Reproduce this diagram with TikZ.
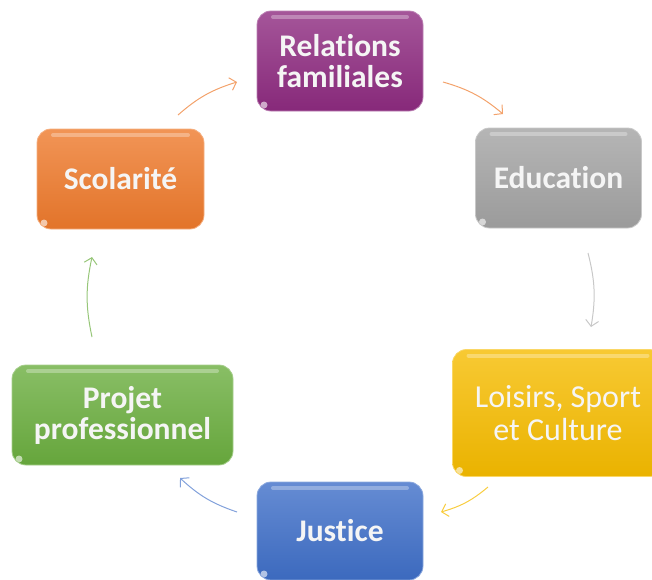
\documentclass[tikz,border=0pt]{standalone}
\usepackage{fontspec}
\setmainfont{Carlito}[Ligatures={NoCommon}]
\usetikzlibrary{arrows.meta}

\definecolor{violet}{HTML}{8E2B80}
\definecolor{gris}{HTML}{A3A3A3}
\definecolor{jaune}{HTML}{F6BC00}
\definecolor{bleu}{HTML}{3F6FC8}
\definecolor{vert}{HTML}{6BAE3F}
\definecolor{orange}{HTML}{EE7A2C}

\tikzset{
  boite/.style={rounded corners=14pt, minimum width=166pt, minimum height=100pt,
    inner sep=0pt, align=center, text=white!96!black,
    font=\fontsize{31.5}{31}\selectfont\bfseries,
    draw=#1!60!white, line width=0.8pt, top color=#1!80!white, bottom color=#1!95!black,
    path picture={
      \draw[white, opacity=.3, line width=4pt, line cap=round]
        ([xshift=16pt,yshift=-6pt]path picture bounding box.north west) --
        ([xshift=-16pt,yshift=-6pt]path picture bounding box.north east);
      \fill[white, opacity=.6]
        ([xshift=7pt,yshift=6pt]path picture bounding box.south west) circle (3.5pt);
    }},
  fleche/.style={-{Straight Barb[length=6pt,width=13pt]}, line width=1pt, #1, bend left=12}
}

\begin{document}
\begin{tikzpicture}[x=1pt,y=-1pt]
\useasboundingbox (0,0) rectangle (652,579);

%Les six boites

\node[boite=violet] (rel) at (340,61) {Relations\\familiales};
\node[boite=gris] (edu) at (558.5,178) {Education};
\node[boite=jaune, minimum width=211pt, minimum height=127pt,
  font=\fontsize{32}{33}\selectfont] (loisirs) at (558,413) {Loisirs, Sport\\et Culture};
\node[boite=bleu, minimum height=98pt] (justice) at (340,531) {Justice};
\node[boite=vert, minimum width=221pt] (projet) at (122.5,415) {Projet\\professionnel};
\node[boite=orange, minimum width=167pt] (scol) at (120.5,179) {Scolarité};

%Fleches

\coordinate (a1) at (178,115);
\coordinate (a2) at (237,82);
\coordinate (b1) at (443,82);
\coordinate (b2) at (503,114);
\coordinate (c1) at (588,253);
\coordinate (c2) at (591,327);
\coordinate (d1) at (488,487);
\coordinate (d2) at (441,512);
\coordinate (e1) at (237,512);
\coordinate (e2) at (180,478);
\coordinate (f1) at (92,337);
\coordinate (f2) at (92,257);

\draw[fleche={orange!70!white}] (a1) to (a2);
\draw[fleche={orange!70!white}] (b1) to (b2);
\draw[fleche={gris!60!white}] (c1) to (c2);
\draw[fleche={jaune!75!white}] (d1) to (d2);
\draw[fleche={bleu!65!white}] (e1) to (e2);
\draw[fleche={vert!70!white}] (f1) to (f2);

\end{tikzpicture}
\end{document}
